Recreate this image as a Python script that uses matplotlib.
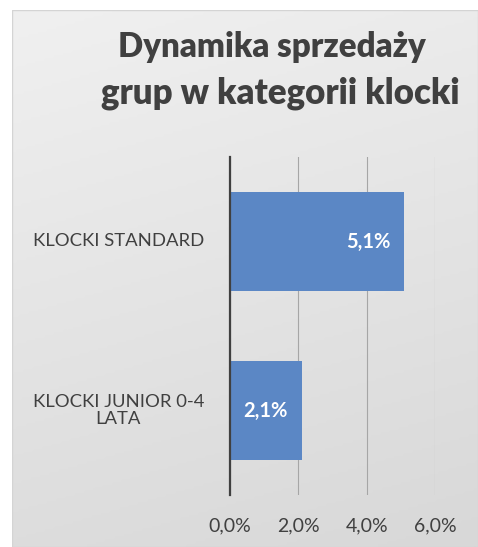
import numpy as np
import matplotlib.pyplot as plt
from matplotlib.ticker import FuncFormatter
from matplotlib.colors import LinearSegmentedColormap

categories = ["KLOCKI STANDARD", "KLOCKI JUNIOR 0-4\nLATA"]
values = [5.1, 2.1]
ticks = [0.0, 2.0, 4.0, 6.0]

plt.rcParams['font.family'] = ['Lato', 'DejaVu Sans']

W, H = 478, 547
fig = plt.figure(figsize=(W/100, H/100), dpi=100, facecolor='white')

# gradient background panel
bgax = fig.add_axes([12/W, 0, 1 - 12/W, 1 - 10/H])
bgax.set_zorder(-5)
cmap = LinearSegmentedColormap.from_list('bg', ['#f0f0f0', '#d8d8d8'])
gy, gx = np.mgrid[0:1:200j, 0:1:200j]
bgax.imshow(0.8 * gy + 0.2 * gx, cmap=cmap, aspect='auto', extent=[0, 1, 1, 0])
bgax.set_axis_off()
bgax.add_patch(plt.Rectangle((0, 0), 1, 1, transform=bgax.transAxes, fill=False,
                             edgecolor='#d4d4d4', lw=1.0))

ax = fig.add_axes([230/W, 1 - 495/H, (435-230)/W, (495-157)/H])
ax.set_zorder(1)
ax.set_facecolor('none')
ypos = [0, 1]
bars = ax.barh(ypos, values, height=0.59, color='#5b87c5', zorder=3)
ax.set_ylim(1.5, -0.5)
ax.set_xlim(0, 6.0)
ax.set_xticks(ticks)
ax.xaxis.set_major_formatter(FuncFormatter(lambda v, p: f"{v:.1f}%".replace('.', ',')))
ax.set_yticks(ypos)
ax.set_yticklabels([])
ax.tick_params(axis='y', length=0)
ax.tick_params(axis='x', length=0, pad=16, labelsize=14, labelcolor='#404040')
ax.grid(axis='x', color='#a6a6a6', lw=0.8, zorder=1)
for s in ['top', 'right', 'bottom']:
    ax.spines[s].set_visible(False)
ax.spines['left'].set_color('#404040')
ax.spines['left'].set_linewidth(1.6)
ax.spines['left'].set_zorder(4)

ytrans = ax.get_yaxis_transform()
for y, c in zip(ypos, categories):
    ax.text(-0.545, y, c, transform=ytrans, ha='center', va='center',
            multialignment='center', linespacing=1.1, fontsize=13.3, color='#404040')

for b, v in zip(bars, values):
    ax.text(v - 0.4, b.get_y() + b.get_height()/2, f"{v:.1f}%".replace('.', ','),
            ha='right', va='center', color='white', fontweight='bold', fontsize=14.5, zorder=5)

fig.text(272/W, 1 - 47/H, "Dynamika sprzedaży", ha='center', va='center',
         fontsize=23.8, fontweight='heavy', color='#404040')
fig.text(280/W, 1 - 93/H, "grup w kategorii klocki", ha='center', va='center',
         fontsize=25, fontweight='heavy', color='#404040')

fig.savefig('out.png', dpi=100, facecolor='white')
